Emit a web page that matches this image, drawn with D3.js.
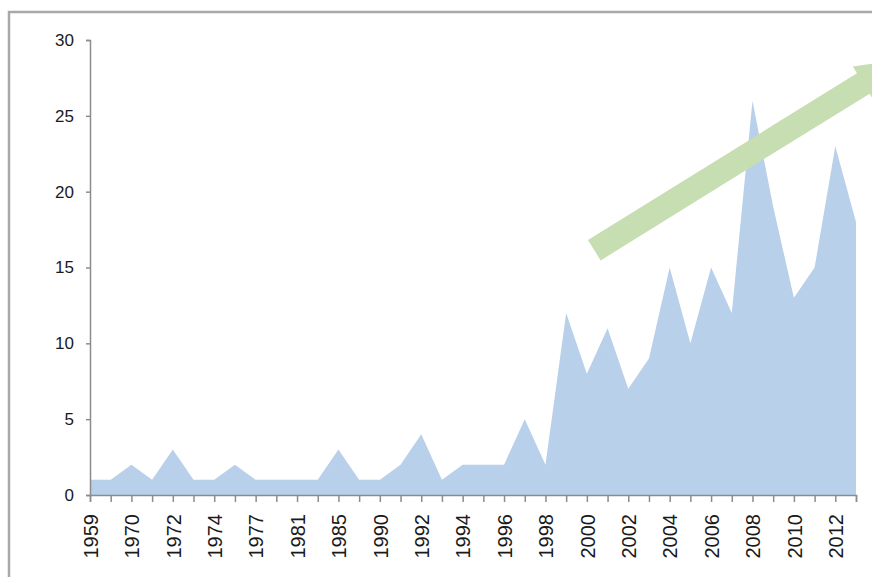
<!DOCTYPE html>
<html>
<head>
<meta charset="utf-8">
<script src="https://cdn.jsdelivr.net/npm/d3@7"></script>
<style>
  html, body { margin: 0; padding: 0; background: #fff; }
  svg { display: block; font-family: Arial, "Liberation Sans", sans-serif; }
</style>
</head>
<body>
<div id="chart"></div>
<script>
// categories (every second one is labelled on the axis)
const years = [1959, 1969, 1970, 1971, 1972, 1973, 1974, 1976, 1977, 1979,
               1981, 1983, 1985, 1988, 1990, 1991, 1992, 1993, 1994, 1995,
               1996, 1997, 1998, 1999, 2000, 2001, 2002, 2003, 2004, 2005,
               2006, 2007, 2008, 2009, 2010, 2011, 2012, 2013];
const counts = [1, 1, 2, 1, 3, 1, 1, 2, 1, 1,
                1, 1, 3, 1, 1, 2, 4, 1, 2, 2,
                2, 5, 2, 12, 8, 11, 7, 9, 15, 10,
                15, 12, 26, 19, 13, 15, 23, 18];
const yTicks = [0, 5, 10, 15, 20, 25, 30];
// trend arrow, in data units: start and tip (category index, value)
const arrowStart = [24.36, 16.14];
const arrowEnd = [39.2, 28.7];

const width = 872, height = 577;
const margin = { top: 40, right: 16, bottom: 82, left: 90 };

const svg = d3.select("#chart")
    .append("svg")
    .attr("width", width)
    .attr("height", height);

// outer frame (cut off on right and bottom like the original)
svg.append("rect")
    .attr("x", 9)
    .attr("y", 12)
    .attr("width", width + 20)
    .attr("height", height + 20)
    .attr("fill", "none")
    .attr("stroke", "#a9a9a9")
    .attr("stroke-width", 2.5);

const x = d3.scaleLinear()
    .domain([0, years.length - 1])
    .range([margin.left, width - margin.right]);

const y = d3.scaleLinear()
    .domain([0, 30])
    .range([height - margin.bottom, margin.top]);

const area = d3.area()
    .x((d, i) => x(i))
    .y0(y(0))
    .y1(d => y(d));

svg.append("path")
    .datum(counts)
    .attr("d", area)
    .attr("fill", "#b9d0ea");

// trend arrow
const ax0 = x(arrowStart[0]), ay0 = y(arrowStart[1]);
const ax1 = x(arrowEnd[0]), ay1 = y(arrowEnd[1]);
const len = Math.hypot(ax1 - ax0, ay1 - ay0);
const ang = Math.atan2(ay1 - ay0, ax1 - ax0) * 180 / Math.PI;
const bw = 24, headLen = 45, headW = 40;
svg.append("polygon")
    .attr("points", [
        [0, -bw / 2], [len - headLen, -bw / 2], [len - headLen, -headW / 2],
        [len, 0], [len - headLen, headW / 2], [len - headLen, bw / 2], [0, bw / 2]
    ].map(p => p.join(",")).join(" "))
    .attr("transform", `translate(${ax0},${ay0}) rotate(${ang})`)
    .attr("fill", "#c6deb2");

// y axis
const yAxis = svg.append("g")
    .attr("transform", `translate(${margin.left},0)`)
    .call(d3.axisLeft(y).tickValues(yTicks).tickSize(4).tickPadding(12));
yAxis.selectAll("text")
    .style("font-size", "17px")
    .attr("fill", "#1a1a1a");

// x axis
const xAxis = svg.append("g")
    .attr("transform", `translate(0,${y(0)})`)
    .call(d3.axisBottom(x)
        .tickValues(d3.range(years.length))
        .tickSize(7)
        .tickFormat(i => i % 2 === 0 ? years[i] : ""));
xAxis.selectAll("text")
    .attr("transform", "rotate(-90)")
    .attr("x", -19)
    .attr("y", 0)
    .attr("dy", "0.36em")
    .style("text-anchor", "end")
    .style("font-size", "20px")
    .attr("fill", "#1a1a1a");

svg.selectAll(".domain, .tick line")
    .attr("stroke", "#8c8c8c")
    .attr("stroke-width", 1.5);
</script>
</body>
</html>
